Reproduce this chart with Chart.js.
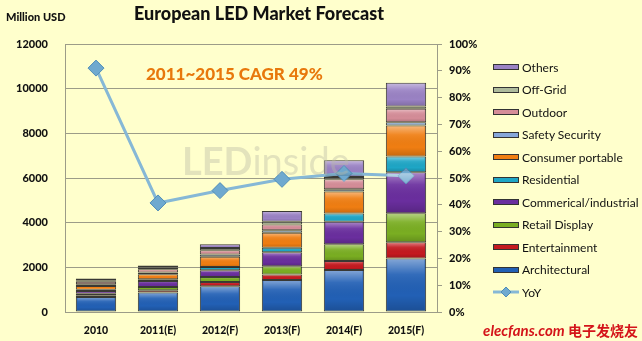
<!DOCTYPE html>
<html>
<head>
<meta charset="utf-8">
<script src="https://cdn.jsdelivr.net/npm/chart.js@4.4.1/dist/chart.umd.min.js"></script>
<style>
  html, body { margin:0; padding:0; }
  body { width:642px; height:341px; background:#FFFFCC; position:relative; overflow:hidden; font-family:Lato, "Liberation Sans", sans-serif; }
  #wrap { position:absolute; left:0; top:0; width:642px; height:341px; }
  .txt { position:absolute; white-space:nowrap; }
  #title { left:0; width:518px; top:2px; text-align:center; font-weight:900; font-size:18px; color:#111; }
  #unit { left:6px; top:10px; font-weight:900; font-size:11px; color:#111; }
  #cagr { left:146px; top:63px; font-weight:900; font-size:17px; color:#E8780C; }
  #wm { left:182px; top:137px; font-size:38px; color:rgba(185,185,165,0.4); }
  #legend { position:absolute; left:493px; top:56px; }
  .li { height:22.5px; display:flex; align-items:center; font-size:12px; color:#111; }
  .sw { width:26px; height:6px; margin-right:3px; border:1px solid #333; box-sizing:border-box; }
  #brand { right:4px; bottom:1px; font-size:15px; font-weight:bold; color:#D4141A; font-style:italic; }
  #brand span { font-style:normal; color:#D4141A; font-family:"Noto Sans CJK SC", sans-serif; font-size:14px; }
</style>
</head>
<body>
<div id="wrap"><canvas id="c" width="642" height="341"></canvas></div>
<div class="txt" id="wm"><b>LED</b>inside</div>
<div class="txt" id="title">European LED Market Forecast</div>
<div class="txt" id="unit">Million USD</div>
<div class="txt" id="cagr">2011~2015 CAGR 49%</div>
<div id="legend"></div>
<div class="txt" id="brand">elecfans.com <span>电子发烧友</span></div>
<script>
const categories = ["2010", "2011(E)", "2012(F)", "2013(F)", "2014(F)", "2015(F)"];
const architectural = [670, 870, 1150, 1430, 1880, 2400];
const entertainment = [75, 100, 195, 250, 400, 720];
const retailDisplay = [75, 150, 225, 370, 750, 1300];
const commercial = [120, 270, 300, 630, 1015, 1840];
const residential = [60, 75, 150, 195, 360, 700];
const consumerPortable = [165, 225, 450, 670, 985, 1390];
const safetySecurity = [75, 75, 100, 120, 105, 150];
const outdoor = [120, 150, 195, 255, 450, 600];
const offGrid = [60, 75, 100, 120, 100, 100];
const others = [80, 90, 165, 480, 745, 1060];
const yoy = [0.91, 0.407, 0.453, 0.495, 0.517, 0.508];
const leftTicks = [0, 2000, 4000, 6000, 8000, 10000, 12000];
const rightTicks = ["0%","10%","20%","30%","40%","50%","60%","70%","80%","90%","100%"];

const series = [
  ["Architectural", architectural, "#2260B5"],
  ["Entertainment", entertainment, "#C41A20"],
  ["Retail Display", retailDisplay, "#7AAE22"],
  ["Commerical/industrial", commercial, "#6A2E9E"],
  ["Residential", residential, "#1EA6C6"],
  ["Consumer portable", consumerPortable, "#F07E12"],
  ["Safety Security", safetySecurity, "#86A7DA"],
  ["Outdoor", outdoor, "#D58D98"],
  ["Off-Grid", offGrid, "#AEBB9C"],
  ["Others", others, "#9A82C4"]
];

const datasets = [{
  type: 'line', label: 'YoY', data: yoy, yAxisID: 'y1', order: 0,
  borderColor: '#86B8D6', borderWidth: 3, pointStyle: 'rectRot', pointRadius: 8,
  pointBackgroundColor: '#6FA9CF', pointBorderColor: '#4F8DB8', pointBorderWidth: 1, tension: 0
}];
series.forEach(s => datasets.push({
  type: 'bar', label: s[0], data: s[1], backgroundColor: s[2], yAxisID: 'y', order: 1,
  borderColor: 'rgba(35,35,35,0.9)', borderWidth: 1, borderSkipped: false,
  barPercentage: 0.65, categoryPercentage: 1
}));

const gridColor = '#9C9C88';
const tickFont = { family: 'Lato', weight: '900', size: 11 };

// glossy highlight drawn over each bar element using the element's own geometry
const gloss = {
  id: 'gloss',
  afterDatasetsDraw(chart) {
    const ctx = chart.ctx;
    chart.data.datasets.forEach((ds, i) => {
      if (ds.type !== 'bar') return;
      chart.getDatasetMeta(i).data.forEach(el => {
        const h = el.base - el.y; if (h < 4) return;
        const left = el.x - el.width / 2 + 1.5, w = el.width - 3;
        const g = ctx.createLinearGradient(0, el.y, 0, el.base);
        g.addColorStop(0, 'rgba(255,255,255,0.45)');
        g.addColorStop(0.3, 'rgba(255,255,255,0.08)');
        g.addColorStop(0.7, 'rgba(0,0,0,0)');
        g.addColorStop(1, 'rgba(0,0,0,0.18)');
        ctx.save(); ctx.fillStyle = g;
        ctx.fillRect(left, el.y + 1, w, h - 2);
        ctx.restore();
      });
    });
  }
};

new Chart(document.getElementById('c'), {
  data: { labels: categories, datasets },
  plugins: [gloss],
  options: {
    responsive: false, animation: false,
    layout: { padding: { top: 44, left: 0, right: 0, bottom: 0 } },
    plugins: { legend: { display: false }, tooltip: { enabled: false } },
    scales: {
      x: {
        stacked: true, offset: true,
        grid: { display: false, drawTicks: false },
        border: { display: true, color: gridColor },
        ticks: { font: { family: 'Lato', weight: '900', size: 10.5 }, color: '#111', padding: 12 },
        afterFit: s => { s.height = 29; }
      },
      y: {
        stacked: true, min: 0, max: 12000,
        afterBuildTicks: s => { s.ticks = leftTicks.map(v => ({ value: v })); },
        grid: { color: gridColor, drawTicks: false },
        border: { color: gridColor },
        ticks: { font: tickFont, color: '#111', padding: 17, callback: v => String(v) },
        afterFit: s => { s.width = 65; }
      },
      y1: {
        position: 'right', min: 0, max: 1,
        afterBuildTicks: s => { s.ticks = rightTicks.map((t, i) => ({ value: i / 10 })); },
        grid: { drawOnChartArea: false, color: gridColor, tickLength: 5 },
        border: { color: gridColor },
        ticks: { font: tickFont, color: '#111', padding: 7, callback: (v, i) => rightTicks[i] },
        afterFit: s => { s.width = 205; }
      }
    }
  }
});

const lg = document.getElementById('legend');
[...series].reverse().forEach(s => {
  const d = document.createElement('div'); d.className = 'li';
  d.innerHTML = '<div class="sw" style="background:' + s[2] + '"></div>' + s[0];
  lg.appendChild(d);
});
const y = document.createElement('div'); y.className = 'li';
y.innerHTML = '<svg width="26" height="12" style="margin-right:3px"><line x1="0" y1="6" x2="26" y2="6" stroke="#86B8D6" stroke-width="3"/><polygon points="13,1 18,6 13,11 8,6" fill="#6FA9CF" stroke="#4F8DB8"/></svg>YoY';
lg.appendChild(y);
</script>
</body>
</html>
